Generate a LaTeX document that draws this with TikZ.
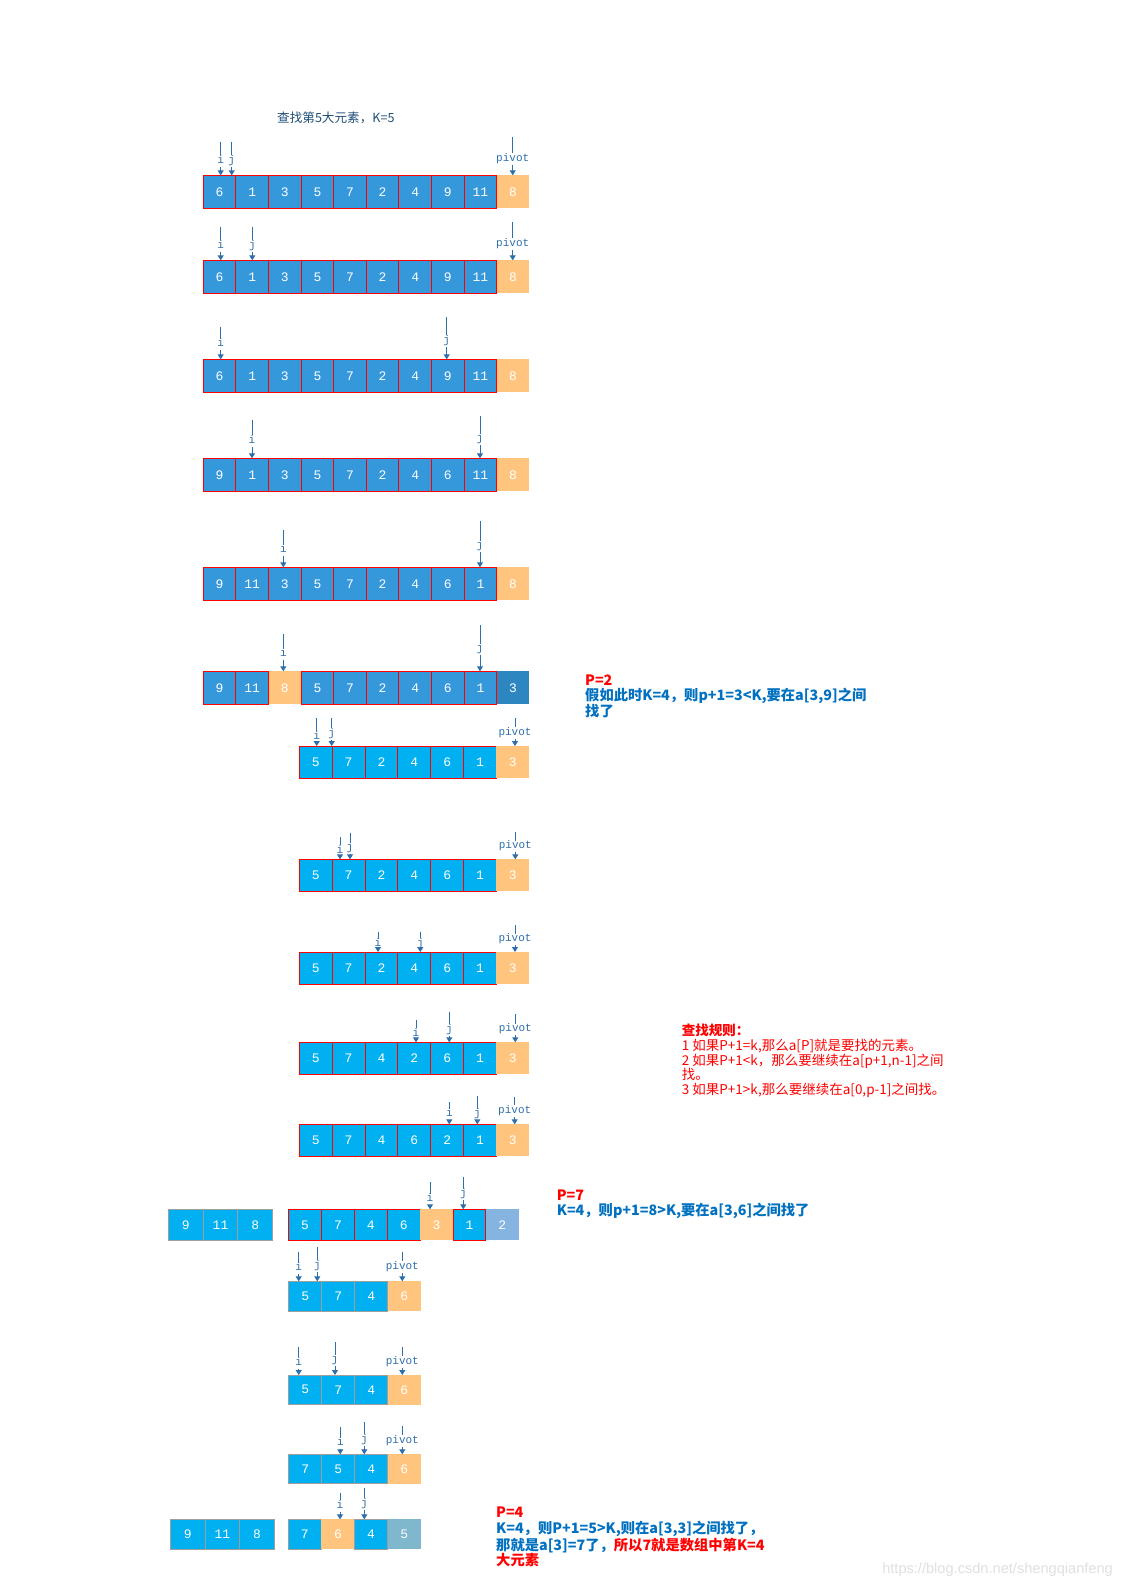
\documentclass[tikz,border=0pt]{standalone}
\usepackage{fontspec}
\setmainfont{Liberation Sans}
\setmonofont{Liberation Mono}
\newfontfamily\cjk{Noto Sans CJK SC}
\usepackage{tikz}
\usetikzlibrary{arrows.meta}
\definecolor{cellA}{HTML}{3598DB}
\definecolor{cellB}{HTML}{00B0F0}
\definecolor{pivotc}{HTML}{FFC57F}
\definecolor{darkc}{HTML}{2E86C1}
\definecolor{lightc}{HTML}{85B4E1}
\definecolor{grayc}{HTML}{7FB7CC}
\definecolor{edgeg}{HTML}{9E9E9E}
\definecolor{ptrblue}{HTML}{2E6EAA}
\definecolor{noteblue}{HTML}{0070C0}
\definecolor{titleblue}{HTML}{1F4E79}
\tikzset{
  cell/.style={rectangle, inner sep=0pt, outer sep=0pt, text=white, line width=1pt,
               font=\ttfamily\fontsize{13}{13}\selectfont},
  ca/.style={cell, fill=cellA, draw=red},
  cb/.style={cell, fill=cellB, draw=red},
  cg/.style={cell, fill=cellB, draw=edgeg},
  po/.style={cell, fill=pivotc},
  pd/.style={cell, fill=darkc},
  pl/.style={cell, fill=lightc},
  ps/.style={cell, fill=grayc},
  ptrlab/.style={inner sep=0.8pt, anchor=base, text=ptrblue, text height=7pt, text depth=2.5pt,
                 font=\ttfamily\fontsize{11}{11}\selectfont},
  ptrline/.style={ptrblue, line width=0.9pt},
  ptrarr/.style={-{Triangle[width=6pt,length=5pt]}, ptrblue, line width=0.9pt},
  note/.style={anchor=base west, inner sep=0pt, align=left, text=noteblue,
               font=\cjk\bfseries\fontsize{14.3}{15.5}\selectfont},
  rules/.style={anchor=base west, inner sep=0pt, align=left, text=red,
                font=\cjk\fontsize{13.5}{14.7}\selectfont},
}
% one row of cells: prefix, x0, y0, width, height, value/style list
\newcommand{\cells}[6]{%
  \foreach \v/\s [count=\k from 0] in {#6}
    \node[\s, minimum width=#4pt, minimum height=#5pt, anchor=north west] (#1\k) at (#2+\k*#4, #3) {\v};
}
% pointer: name, x, top of line, baseline of label, tip, label
\newcommand{\ptr}[6]{%
  \coordinate (#1t) at (#2,#3);
  \node[ptrlab] (#1) at (#2,#4) {#6};
  \coordinate (#1h) at (#2,#5);
  \draw[ptrline] (#1t) -- (#1.north);
  \draw[ptrarr] (#1.south) -- (#1h);
}

\begin{document}
\begin{tikzpicture}[x=1pt, y=-1pt]
\fill[white] (0,0) rectangle (1123,1587);
\useasboundingbox (0,0) rectangle (1123,1587);

\node[anchor=base west, inner sep=0pt, text=titleblue, font=\cjk\fontsize{12.6}{12.6}\selectfont] (ttl) at (277,122.5) {查找第5大元素，K=5};

% full array, pivot 8
\cells{r1c}{203.3}{175.3}{32.6}{33}{6/ca,1/ca,3/ca,5/ca,7/ca,2/ca,4/ca,9/ca,11/ca,8/po}
\ptr{r1i}{220.7}{141.7}{163}{175.3}{i}
\ptr{r1j}{231.7}{141.7}{163}{175.3}{j}
\ptr{r1p}{512.7}{136.7}{161}{175.3}{pivot}

\cells{r2c}{203.3}{260.3}{32.6}{33}{6/ca,1/ca,3/ca,5/ca,7/ca,2/ca,4/ca,9/ca,11/ca,8/po}
\ptr{r2i}{220.7}{226.7}{248}{260.3}{i}
\ptr{r2j}{252.3}{226.7}{248}{260.3}{j}
\ptr{r2p}{512.7}{222.3}{246}{260.3}{pivot}

\cells{r3c}{203.3}{359.3}{32.6}{33}{6/ca,1/ca,3/ca,5/ca,7/ca,2/ca,4/ca,9/ca,11/ca,8/po}
\ptr{r3i}{220.7}{326.7}{346.7}{359.3}{i}
\ptr{r3j}{446.7}{317.3}{343}{359.3}{j}

\cells{r4c}{203.3}{458.3}{32.6}{33}{9/ca,1/ca,3/ca,5/ca,7/ca,2/ca,4/ca,6/ca,11/ca,8/po}
\ptr{r4i}{252}{420}{443.3}{458.3}{i}
\ptr{r4j}{480}{416}{441.7}{458.3}{j}

\cells{r5c}{203.3}{567.3}{32.6}{33}{9/ca,11/ca,3/ca,5/ca,7/ca,2/ca,4/ca,6/ca,1/ca,8/po}
\ptr{r5i}{283.3}{530}{552.7}{567.3}{i}
\ptr{r5j}{480}{520.7}{548}{567.3}{j}

\cells{r6c}{203.3}{671.3}{32.6}{33}{9/ca,11/ca,8/po,5/ca,7/ca,2/ca,4/ca,6/ca,1/ca,3/pd}
\ptr{r6i}{283.3}{634}{656}{671.3}{i}
\ptr{r6j}{480}{625}{651}{671.3}{j}

\node[note] (p2) at (585,716) {\textcolor{red}{P=2}\\假如此时K=4，则p+1=3<K,要在a[3,9]之间\\找了};

% right part a[3..9], pivot 3
\cells{r7c}{299.3}{746}{32.86}{32}{5/cb,7/cb,2/cb,4/cb,6/cb,1/cb,3/po}
\ptr{r7i}{316.7}{718.3}{739}{746}{i}
\ptr{r7j}{331.7}{718.3}{736}{746}{j}
\ptr{r7p}{515}{718.3}{735}{746}{pivot}

\cells{r8c}{299.3}{859.3}{32.86}{32}{5/cb,7/cb,2/cb,4/cb,6/cb,1/cb,3/po}
\ptr{r8i}{340}{837.3}{853}{859.3}{i}
\ptr{r8j}{350}{832.7}{850}{859.3}{j}
\ptr{r8p}{515.3}{831.7}{848.7}{859.3}{pivot}

\cells{r9c}{299.3}{952}{32.86}{32}{5/cb,7/cb,2/cb,4/cb,6/cb,1/cb,3/po}
\ptr{r9i}{378}{931.7}{946.7}{952}{i}
\ptr{r9j}{420.3}{931.7}{946}{952}{j}
\ptr{r9p}{515}{925}{941.7}{952}{pivot}

\cells{r10c}{299.3}{1042.3}{32.86}{32}{5/cb,7/cb,4/cb,2/cb,6/cb,1/cb,3/po}
\ptr{r10i}{416}{1020}{1036}{1042.3}{i}
\ptr{r10j}{449.3}{1011.7}{1032}{1042.3}{j}
\ptr{r10p}{515.3}{1014}{1031.7}{1042.3}{pivot}

\node[rules] (rul) at (681.7,1094.5) {\textbf{查找规则：}\\1 如果P+1=k,那么a[P]就是要找的元素。\\2 如果P+1<k，那么要继续在a[p+1,n-1]之间\\找。\\3 如果P+1>k,那么要继续在a[0,p-1]之间找。};

\cells{r11c}{299.3}{1124.3}{32.86}{32}{5/cb,7/cb,4/cb,6/cb,2/cb,1/cb,3/po}
\ptr{r11i}{449.3}{1101.7}{1116.7}{1124.3}{i}
\ptr{r11j}{477.3}{1096}{1116.7}{1124.3}{j}
\ptr{r11p}{514.7}{1096.7}{1113}{1124.3}{pivot}

\cells{r12a}{168.3}{1209.3}{34.8}{31}{9/cg,11/cg,8/cg}
\cells{r12c}{288.7}{1209.3}{32.86}{31}{5/cb,7/cb,4/cb,6/cb,3/po,1/cb,2/pl}
\ptr{r12i}{430}{1181.7}{1201.7}{1209.3}{i}
\ptr{r12j}{463.3}{1176.7}{1196.7}{1209.3}{j}

\node[note] (p7) at (556.7,1215.5) {\textcolor{red}{P=7}\\K=4，则p+1=8>K,要在a[3,6]之间找了};

% a[3..6], pivot 6
\cells{r13c}{288.7}{1281.3}{33}{30}{5/cg,7/cg,4/cg,6/po}
\ptr{r13i}{298.7}{1252.3}{1270.7}{1281.3}{i}
\ptr{r13j}{317.3}{1247.3}{1268}{1281.3}{j}
\ptr{r13p}{402.3}{1252.3}{1269}{1281.3}{pivot}

\cells{r14c}{288.7}{1375}{33}{29.5}{5/cg,7/cg,4/cg,6/po}
\ptr{r14i}{298.7}{1347.3}{1365}{1375}{i}
\ptr{r14j}{335}{1342.3}{1362}{1375}{j}
\ptr{r14p}{402.3}{1347.3}{1364}{1375}{pivot}

\cells{r15c}{288.7}{1454.3}{33}{29.5}{7/cg,5/cg,4/cg,6/po}
\ptr{r15i}{340.3}{1427.3}{1445}{1454.3}{i}
\ptr{r15j}{364.3}{1422.3}{1442}{1454.3}{j}
\ptr{r15p}{402.3}{1426}{1443}{1454.3}{pivot}

\cells{r16a}{170.3}{1519.3}{34.7}{30}{9/cg,11/cg,8/cg}
\cells{r16c}{288.3}{1519.3}{33.1}{30}{7/cg,6/po,4/cg,5/ps}
\ptr{r16i}{340}{1492.7}{1508}{1519.3}{i}
\ptr{r16j}{364.3}{1487.7}{1506}{1519.3}{j}

\node[note] (p4) at (496,1565.5) {\textcolor{red}{P=4}\\K=4，则P+1=5>K,则在a[3,3]之间找了，\\那就是a[3]=7了，\textcolor{red}{所以7就是数组中第K=4}\\\textcolor{red}{大元素}};

\node[anchor=base east, inner sep=0pt, text=black!12, font=\fontsize{14.6}{14.6}\selectfont] (wm) at (1113,1573) {https://blog.csdn.net/shengqianfeng};
\end{tikzpicture}
\end{document}
